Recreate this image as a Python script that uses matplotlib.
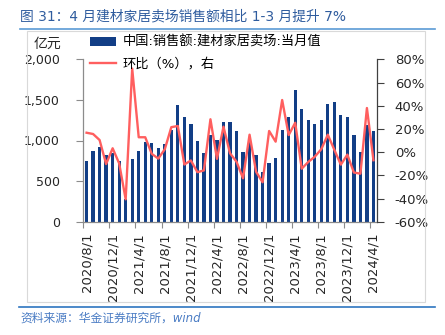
import matplotlib
matplotlib.use("Agg")
import matplotlib.pyplot as plt
from matplotlib.patches import Rectangle
from matplotlib.lines import Line2D

plt.rcParams['font.family'] = ['DejaVu Sans', 'Noto Sans CJK SC']

months = ["2020/8/1", "2020/9/1", "2020/10/1", "2020/11/1", "2020/12/1",
          "2021/1/1", "2021/2/1", "2021/3/1", "2021/4/1", "2021/5/1", "2021/6/1",
          "2021/7/1", "2021/8/1", "2021/9/1", "2021/10/1", "2021/11/1", "2021/12/1",
          "2022/1/1", "2022/2/1", "2022/3/1", "2022/4/1", "2022/5/1", "2022/6/1",
          "2022/7/1", "2022/8/1", "2022/9/1", "2022/10/1", "2022/11/1", "2022/12/1",
          "2023/1/1", "2023/2/1", "2023/3/1", "2023/4/1", "2023/5/1", "2023/6/1",
          "2023/7/1", "2023/8/1", "2023/9/1", "2023/10/1", "2023/11/1", "2023/12/1",
          "2024/1/1", "2024/2/1", "2024/3/1", "2024/4/1"]

sales = [750, 865, 925, 821, 850, 752, 280, 772, 873, 985, 965, 911,
         960, 1135, 1437, 1287, 1200, 994, 842, 1068, 1006, 1230, 1222,
         1120, 860, 1000, 825, 606, 719, 780, 1127, 1293, 1625, 1390,
         1250, 1203, 1255, 1455, 1480, 1316, 1287, 1062, 864, 1191, 1112]

mom = [16.7, 15.6, 10.4, -10.3, 3.3, -9.7, -40.7, 72.0, 12.8, 12.8, -1.5,
       -5.6, 2.5, 21.5, 22.5, -10.7, -7.2, -17.3, -15.8, 28.3, -5.8, 21.9,
       -1.0, -8.3, -22.6, 15.0, -16.9, -26.0, 18.2, 9.0, 44.9, 14.7, 25.3,
       -14.3, -8.5, -4.0, 2.5, 15.0, 2.0, -10.8, -2.2, -17.6, -18.6, 38.0, -7.0]

left_ticks = [0, 500, 1000, 1500, 2000]
left_labels = ["0", "500", "1,000", "1,500", "2,000"]
right_ticks = [-60, -40, -20, 0, 20, 40, 60, 80]
right_labels = ["-60%", "-40%", "-20%", "0%", "20%", "40%", "60%", "80%"]

bar_label = "中国:销售额:建材家居卖场:当月值"
line_label = "环比（%），右"
title = "图 31：4 月建材家居卖场销售额相比 1-3 月提升 7%"
source = "资料来源：华金证券研究所，wind"
unit = "亿元"

W, H = 445, 335
fig = plt.figure(figsize=(W / 100, H / 100), dpi=100)

# frame box and decorative lines
fig.patches.append(Rectangle((27 / W, 1 - 302 / H), (425 - 27) / W, (302 - 31) / H,
                             transform=fig.transFigure, fill=False,
                             edgecolor='#D9D9D9', lw=0.8))
fig.lines.append(Line2D([20 / W, 435 / W], [1 - 28.5 / H, 1 - 28.5 / H],
                        transform=fig.transFigure, color='#5B9BD5', lw=1.2))
fig.lines.append(Line2D([19 / W, 435 / W], [1 - 306.5 / H, 1 - 306.5 / H],
                        transform=fig.transFigure, color='#2E75C0', lw=1.2))

fig.text(20 / W, 1 - 16 / H, title, fontsize=9.9, color='#2F5C9E',
         ha='left', va='center')
fig.text(20 / W, 1 - 318 / H, source, fontsize=8.5, color='#4A7CC4',
         style='italic', ha='left', va='center')
fig.text(47 / W, 1 - 44 / H, unit, fontsize=10, color='#262626',
         ha='center', va='center')

ax = fig.add_axes([83.3 / W, 1 - 221.7 / H, (376.7 - 83.3) / W, (221.7 - 59.3) / H])
x = list(range(len(months)))
bars = ax.bar(x, sales, width=0.5, color='#123E86', zorder=2, label=bar_label)
ax.set_xlim(-0.5, len(months) - 0.5)
ax.set_ylim(0, 2000)
ax.set_yticks(left_ticks)
ax.set_yticklabels(left_labels)
ax.tick_params(axis='y', direction='out', length=5, width=0.8, color='#8C8C8C',
               labelsize=9, labelcolor='#262626', pad=12)

label_pos = x[::4]
ax.set_xticks(label_pos)
ax.set_xticklabels([months[i] for i in label_pos], rotation=90, ha='center', va='top')
ax.set_xticks([p - 0.5 for p in label_pos], minor=True)
ax.tick_params(axis='x', which='major', length=0, labelsize=9.5,
               labelcolor='#262626', pad=8)
ax.tick_params(axis='x', which='minor', direction='out', length=4, width=0.8,
               color='#8C8C8C')
for s in ['top', 'right']:
    ax.spines[s].set_visible(False)
for s in ['left', 'bottom']:
    ax.spines[s].set_color('#8C8C8C')
    ax.spines[s].set_linewidth(0.9)

ax2 = ax.twinx()
line, = ax2.plot(x, mom, color='#FF5F5F', lw=1.7, zorder=3, label=line_label)
ax2.set_ylim(-60, 80)
ax2.set_yticks(right_ticks)
ax2.set_yticklabels(right_labels)
ax2.tick_params(axis='y', direction='out', length=5, width=0.8, color='#404040',
                labelsize=9.5, labelcolor='#262626', pad=8)
for s in ['top', 'left', 'bottom']:
    ax2.spines[s].set_visible(False)
ax2.spines['right'].set_color('#404040')
ax2.spines['right'].set_linewidth(0.9)

fig.legend([bars, line], [bar_label, line_label], loc='upper left',
           bbox_to_anchor=(90 / W, 1 - 36 / H), frameon=False, fontsize=9.5,
           handlelength=2.0, handleheight=0.6, handletextpad=0.5,
           labelspacing=0.6, borderaxespad=0, borderpad=0)

fig.savefig("out.png", dpi=100)
